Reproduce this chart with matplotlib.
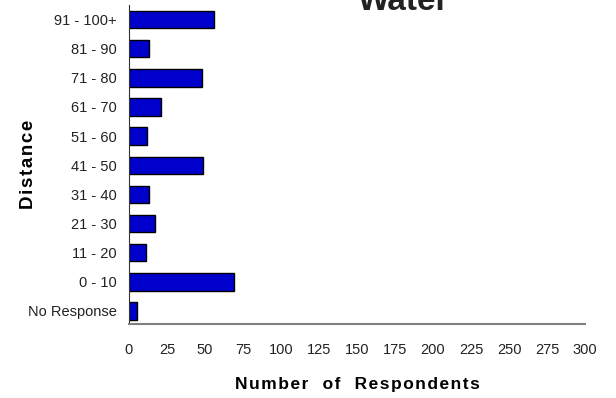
import matplotlib
matplotlib.use("Agg")
import matplotlib.pyplot as plt

plt.rcParams["font.family"] = ["Liberation Sans", "DejaVu Sans"]

# Data (bottom to top)
categories = ["No Response", "0 - 10", "11 - 20", "21 - 30", "31 - 40", "41 - 50",
              "51 - 60", "61 - 70", "71 - 80", "81 - 90", "91 - 100+"]
respondents = [5, 69, 11, 17, 13, 49, 12, 21, 48, 13, 56]
x_ticks = [0, 25, 50, 75, 100, 125, 150, 175, 200, 225, 250, 275, 300]


def spaced(s):
    # the original labels are drawn with a little letter spacing
    return "\u200a".join(s)


fig = plt.figure(figsize=(6.16, 3.98), dpi=100)
ax = fig.add_axes([0.2094, 0.1859, 0.7403, 0.8015])

ax.barh(range(len(categories)), respondents, height=0.6, color="#0000CC",
        edgecolor="black", linewidth=1.0)

ax.set_xlim(0, 300)
ax.set_ylim(-0.45, 10.5)
ax.set_xticks(x_ticks)
ax.set_yticks(range(len(categories)))
ax.set_yticklabels(categories)
ax.tick_params(axis="both", length=0, labelsize=10.5, colors="#222222")
ax.tick_params(axis="x", pad=14)
ax.tick_params(axis="y", pad=9)

for s in ["top", "right"]:
    ax.spines[s].set_visible(False)
ax.spines["left"].set_color("#333333")
ax.spines["bottom"].set_color("#808080")
ax.spines["bottom"].set_linewidth(1.5)

ax.set_xlabel(spaced("Number  of  Respondents"), fontsize=12.5, fontweight="bold",
              labelpad=14)
ax.set_ylabel(spaced("Distance"), fontsize=13.5, fontweight="bold")
ax.yaxis.set_label_coords(-0.202, 0.5)
fig.text(0.656, 1 - 10.5 / 398, "Water", fontsize=24, fontweight="bold",
         ha="center", va="baseline", color="#222222")

fig.savefig("out.png", dpi=100)
